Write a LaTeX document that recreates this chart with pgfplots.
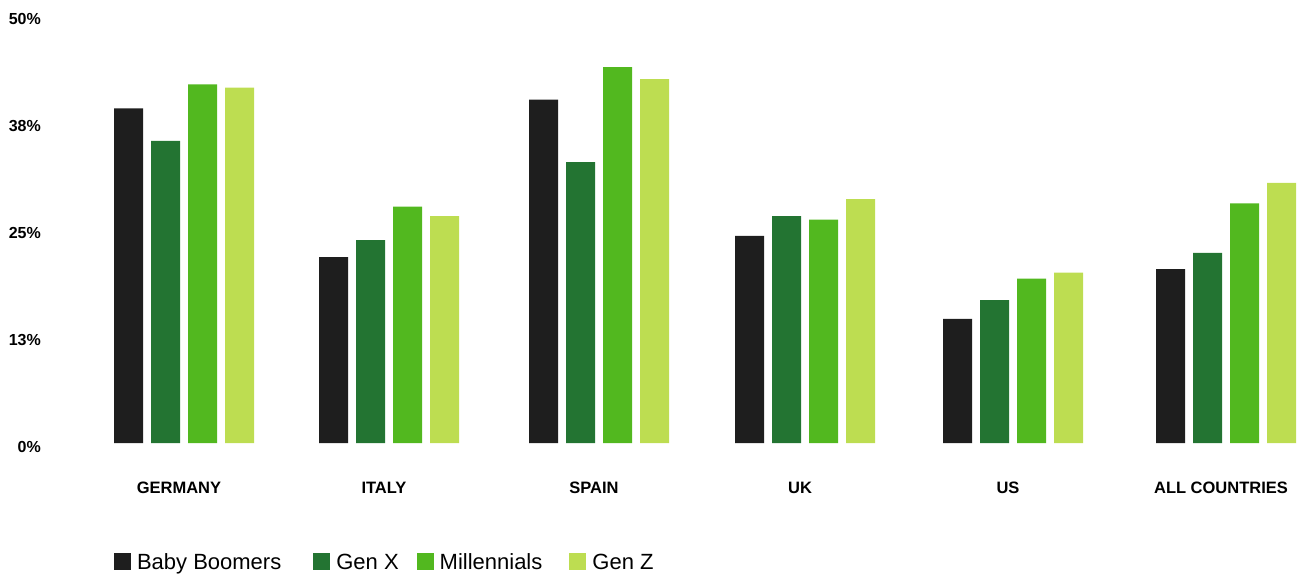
\documentclass[border=0pt]{standalone}
\usepackage{pgfplots}
\usepackage{pgfplotstable}
\pgfplotsset{compat=1.18}
\usepackage{fontspec}
\setmainfont{Liberation Sans}

\definecolor{boomers}{HTML}{1E1E1E}
\definecolor{genx}{HTML}{237432}
\definecolor{millennials}{HTML}{52B81F}
\definecolor{genz}{HTML}{BDDD51}

% share of each generation, per country (percent);
% x is the horizontal position of each country group
\pgfplotstableread{
x     bb    gx    mil   gz
184   39.1  35.3  41.9  41.5
389   21.7  23.7  27.6  26.5
599   40.1  32.8  43.9  42.5
805   24.2  26.5  26.1  28.5
1013  14.5  16.7  19.2  19.9
1226  20.3  22.2  28.0  30.4
}\shares

\begin{document}
\begin{tikzpicture}
\useasboundingbox (0pt,0pt) rectangle (1301pt,574pt);
\begin{axis}[
  at={(50pt,131pt)}, anchor=south west,
  scale only axis,
  width=1251pt, height=443pt,
  xmin=50, xmax=1301,
  ymin=0, ymax=51.75,
  axis line style={draw=none},
  major tick length=0pt,
  xtick=data,
  xticklabels={GERMANY,ITALY,SPAIN,UK,US,ALL COUNTRIES},
  xticklabel style={font=\fontsize{16.5}{18}\selectfont\bfseries, inner sep=0pt, anchor=base, yshift=-50pt, xshift=-5pt},
  ytick={0,12.5,25,37.5,50},
  yticklabels={0\%,13\%,25\%,38\%,50\%},
  yticklabel style={font=\fontsize{16}{18}\selectfont\bfseries, inner sep=0pt, anchor=base east, xshift=-9pt, yshift=-9.7pt},
  ybar, bar width=29pt,
  every axis plot/.append style={draw=none},
  legend columns=4,
  legend image code/.code={\fill[#1] (0pt,-0.6pt) rectangle (17pt,16.4pt);},
  legend style={
    at={(0.0512,-0.2686)}, anchor=west,
    draw=none, fill=none, inner sep=0pt, outer sep=0pt,
    font=\fontsize{22}{24}\selectfont,
    nodes={inner sep=0pt, anchor=base west},
    /tikz/every odd column/.append style={column sep=6pt},
    /tikz/column 2/.append style={column sep=32pt},
    /tikz/column 4/.append style={column sep=18pt},
    /tikz/column 6/.append style={column sep=27pt},
  },
]
\addplot[fill=boomers, bar shift=-55.5pt] table[x=x, y=bb] {\shares};
\addplot[fill=genx, bar shift=-18.5pt] table[x=x, y=gx] {\shares};
\addplot[fill=millennials, bar shift=18.5pt] table[x=x, y=mil] {\shares};
\addplot[fill=genz, bar shift=55.5pt] table[x=x, y=gz] {\shares};
\legend{Baby Boomers, Gen X, Millennials, Gen Z}
\end{axis}
\end{tikzpicture}
\end{document}
